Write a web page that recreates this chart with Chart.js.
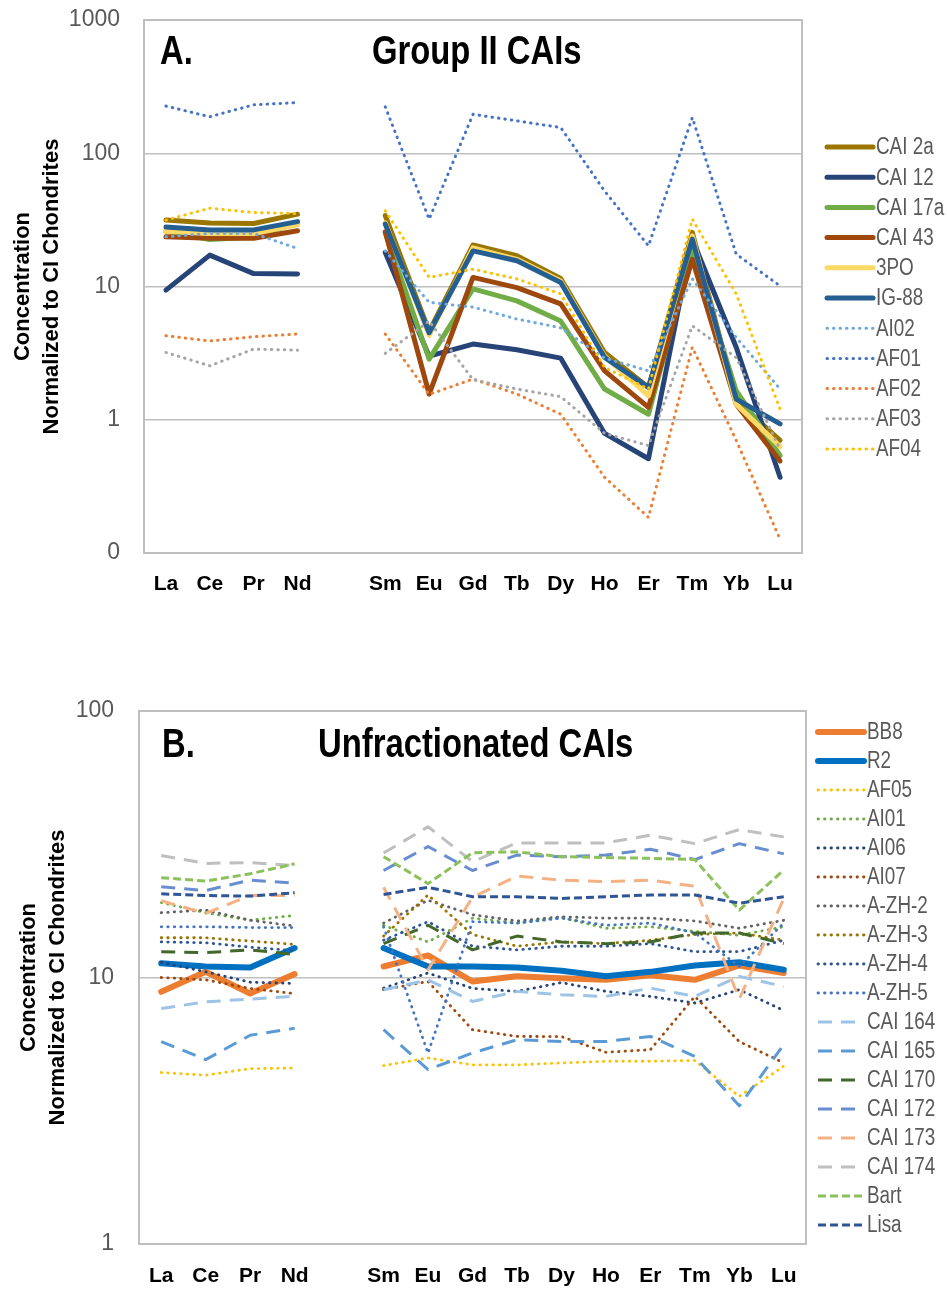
<!DOCTYPE html>
<html>
<head>
<meta charset="utf-8">
<script src="https://cdn.jsdelivr.net/npm/chart.js@4.4.1/dist/chart.umd.min.js"></script>
<style>
  html, body { margin:0; padding:0; background:#fff; }
  .wrap { position:absolute; left:0; width:947px; }
  #wrapA { top:0; height:620px; }
  #wrapB { top:640px; height:651px; }
</style>
</head>
<body>
<div class="wrap" id="wrapA"><canvas id="chartA" width="947" height="620"></canvas></div>
<div class="wrap" id="wrapB"><canvas id="chartB" width="947" height="651"></canvas></div>
<script>
// REE order, blank slot where Pm would be
const elements = ['La','Ce','Pr','Nd','','Sm','Eu','Gd','Tb','Dy','Ho','Er','Tm','Yb','Lu'];
const ticksA = [0.1, 1, 10, 100, 1000];
const ticksB = [1, 10, 100];

// A. Group II CAIs
const cai2a  = [31.5, 30, 29.7, 34.9, null, 34, 4.6, 20.5, 17, 11.5, 3.2, 1.75, 25.5, 1.4, 0.7];
const cai12  = [9.4, 17.2, 12.5, 12.4, null, 18, 3.0, 3.7, 3.35, 2.9, 0.79, 0.51, 22.6, 3.5, 0.37];
const cai17a = [26, 22.5, 23.5, 30, null, 25.4, 2.85, 9.6, 7.8, 5.5, 1.7, 1.1, 18.5, 1.65, 0.54];
const cai43  = [23.6, 23, 23, 26.2, null, 25.7, 1.56, 11.7, 9.8, 7.4, 2.33, 1.24, 16, 1.31, 0.49];
const po3    = [26, 25, 25, 29, null, 30, 4.3, 19.5, 16, 11, 3.0, 1.51, 24, 1.31, 0.63];
const ig88   = [28, 26.6, 26.6, 30.7, null, 29.4, 4.5, 18.5, 15.6, 10.7, 2.93, 1.75, 22.7, 1.43, 0.93];
const ai02   = [23.6, 25, 25, 19.3, null, 18.5, 7.6, 7.0, 5.7, 4.9, 2.9, 2.33, 11.4, 4.15, 1.7];
const af01   = [226, 188, 231, 240, null, 223, 32, 196, 175, 156, 52, 20.2, 185, 17.5, 10.1];
const af02   = [4.27, 3.9, 4.2, 4.4, null, 4.4, 1.55, 2.02, 1.56, 1.1, 0.37, 0.185, 3.5, 0.7, 0.127];
const af03   = [3.2, 2.54, 3.39, 3.33, null, 3.15, 5.5, 2.0, 1.7, 1.49, 0.79, 0.64, 5.07, 2.93, 0.6];
const af04   = [31.5, 38.7, 35.9, 35.3, null, 37, 11.7, 13.5, 11.4, 8.8, 2.47, 1.7, 32, 8.8, 1.2];

// B. Unfractionated CAIs
const bb8    = [8.84, 10.5, 8.71, 10.3, null, 11.0, 12.1, 9.66, 10.1, 9.94, 9.8, 10.2, 9.8, 11.1, 10.4];
const r2     = [11.3, 11.0, 10.9, 12.9, null, 12.9, 11.0, 11.0, 10.9, 10.6, 10.1, 10.5, 11.1, 11.4, 10.7];
const af05   = [4.4, 4.3, 4.55, 4.57, null, 4.67, 4.99, 4.7, 4.7, 4.78, 4.85, 4.85, 4.88, 3.58, 4.65];
const ai01   = [19.1, 17.5, 16.4, 17.1, null, 15.7, 13.6, 16.7, 16.0, 16.8, 15.3, 15.5, 14.9, 14.4, 15.5];
const ai06   = [11.4, 10.5, 9.6, 9.5, null, 9.12, 10.4, 9.1, 8.87, 9.57, 8.87, 8.49, 8.02, 9.0, 7.52];
const ai07   = [10.0, 9.8, 9.1, 8.7, null, 9.0, 9.66, 6.37, 6.01, 6.0, 5.24, 5.36, 8.49, 5.75, 4.78];
const azh2   = [17.5, 17.9, 16.4, 15.6, null, 16.0, 19.5, 17.2, 16.3, 16.9, 16.7, 16.7, 16.3, 15.3, 16.4];
const azh3   = [14.1, 14.1, 13.7, 13.3, null, 14.3, 20.4, 14.5, 13.1, 13.6, 13.4, 13.8, 14.5, 14.7, 13.8];
const azh4   = [13.6, 13.5, 13.0, 12.6, null, 13.8, 16.2, 13.1, 12.7, 13.1, 13.1, 13.4, 12.5, 12.5, 13.8];
const azh5   = [15.5, 15.5, 15.4, 15.4, null, 15.5, 5.2, 16.2, 16.0, 16.7, 15.7, 16.0, 14.7, 11.0, 16.0];
const cai164 = [7.65, 8.1, 8.3, 8.5, null, 9.0, 9.8, 8.13, 8.87, 8.61, 8.49, 9.12, 8.5, 10.1, 9.25];
const cai165 = [5.75, 4.92, 6.07, 6.45, null, 6.37, 4.51, 5.21, 5.84, 5.75, 5.75, 6.01, 5.06, 3.3, 5.6];
const cai170 = [12.5, 12.4, 12.7, 12.2, null, 13.4, 15.7, 12.7, 14.3, 13.6, 13.4, 13.6, 14.7, 14.7, 13.4];
const cai172 = [21.9, 21.2, 23.2, 22.6, null, 25.2, 31.0, 25.2, 28.8, 28.4, 28.8, 30.3, 27.7, 31.8, 29.1];
const cai173 = [19.4, 17.4, 20.3, 20.3, null, 21.8, 10.7, 20.0, 24.0, 23.2, 22.9, 23.2, 22.0, 8.3, 19.8];
const cai174 = [28.7, 26.8, 27.0, 26.3, null, 29.3, 36.8, 27.2, 32.0, 32.0, 32.0, 34.2, 31.8, 35.9, 33.7];
const bart   = [23.7, 23.0, 24.5, 26.7, null, 28.4, 22.5, 29.4, 29.6, 28.4, 28.2, 28.0, 27.7, 17.9, 25.3];
const lisa   = [20.6, 20.3, 20.2, 20.8, null, 20.5, 21.8, 20.1, 20.1, 19.8, 20.1, 20.4, 20.4, 19.0, 20.1];

const SANS = "'Liberation Sans', Arial, sans-serif";
const NARROW_X = 0.82; // squeeze to mimic Arial Narrow
const SOLID = [], DOT = [0.5, 6], LDASH = [14, 9], DASH = [8, 4];

function line(label, data, color, width, dash){
  return { label, data, borderColor: color, backgroundColor: color, borderWidth: width,
    borderDash: dash, borderCapStyle: dash === LDASH || dash === DASH ? 'butt' : 'round',
    borderJoinStyle: 'round', pointRadius: 0, tension: 0, spanGaps: false };
}

const setsA = [
  line('CAI 2a', cai2a, '#9A7600', 5, SOLID),
  line('CAI 12', cai12, '#264478', 5, SOLID),
  line('CAI 17a', cai17a, '#70AD47', 5, SOLID),
  line('CAI 43', cai43, '#9E480E', 5, SOLID),
  line('3PO', po3, '#FFD966', 5, SOLID),
  line('IG-88', ig88, '#255E91', 5, SOLID),
  line('AI02', ai02, '#6FA8DC', 3, DOT),
  line('AF01', af01, '#4472C4', 3, DOT),
  line('AF02', af02, '#ED7D31', 3, DOT),
  line('AF03', af03, '#A5A5A5', 3, DOT),
  line('AF04', af04, '#FFC000', 3, DOT)
];

const setsB = [
  line('BB8', bb8, '#ED7D31', 6, SOLID),
  line('R2', r2, '#0070C0', 6, SOLID),
  line('AF05', af05, '#FFC000', 2.8, DOT),
  line('AI01', ai01, '#70AD47', 2.8, DOT),
  line('AI06', ai06, '#264478', 2.8, DOT),
  line('AI07', ai07, '#9E480E', 2.8, DOT),
  line('A-ZH-2', azh2, '#636363', 2.8, DOT),
  line('A-ZH-3', azh3, '#997300', 2.8, DOT),
  line('A-ZH-4', azh4, '#2F5597', 2.8, DOT),
  line('A-ZH-5', azh5, '#4472C4', 2.8, DOT),
  line('CAI 164', cai164, '#9DC3E6', 3, LDASH),
  line('CAI 165', cai165, '#5B9BD5', 3, LDASH),
  line('CAI 170', cai170, '#43682B', 3, LDASH),
  line('CAI 172', cai172, '#698ED0', 3, LDASH),
  line('CAI 173', cai173, '#F4B183', 3, LDASH),
  line('CAI 174', cai174, '#BFBFBF', 3, LDASH),
  line('Bart', bart, '#8CC05A', 3, DASH),
  line('Lisa', lisa, '#2F5597', 3, DASH)
];

function narrowText(ctx, txt, x, y){
  ctx.save();
  ctx.translate(x, y);
  ctx.scale(NARROW_X, 1);
  ctx.fillText(txt, 0, 0);
  ctx.restore();
}

// frame, panel titles and the legend column
function decor(o){
  return {
    id: 'decor',
    beforeDatasetsDraw(chart){
      const {ctx, chartArea: a} = chart;
      ctx.save();
      ctx.strokeStyle = '#BFBFBF'; ctx.lineWidth = 2;
      ctx.strokeRect(a.left, a.top, a.right - a.left, a.bottom - a.top);
      ctx.restore();
    },
    afterDraw(chart){
      const ctx = chart.ctx;
      ctx.save();
      ctx.fillStyle = '#000';
      ctx.font = `bold 40px ${SANS}`;
      ctx.textAlign = 'left'; ctx.textBaseline = 'alphabetic';
      narrowText(ctx, o.tag, o.tagX, o.titleY);
      narrowText(ctx, o.title, o.titleX, o.titleY);
      ctx.font = `23px ${SANS}`;
      ctx.textBaseline = 'middle';
      chart.data.datasets.forEach((ds, i) => {
        const y = o.legY + i * o.legStep;
        ctx.beginPath();
        ctx.setLineDash(ds.borderDash);
        ctx.lineCap = ds.borderCapStyle;
        ctx.lineWidth = ds.borderWidth;
        ctx.strokeStyle = ds.borderColor;
        ctx.moveTo(o.legX0, y); ctx.lineTo(o.legX1, y);
        ctx.stroke();
        ctx.setLineDash([]);
        ctx.fillStyle = '#595959';
        narrowText(ctx, ds.label, o.legX1 + 3, y + 1);
      });
      ctx.restore();
    }
  };
}

function makeChart(id, sets, ticks, yMin, yMax, box, o){
  sets.forEach((ds, i) => ds.order = -i);
  return new Chart(document.getElementById(id), {
    type: 'line',
    data: { labels: elements, datasets: sets },
    options: {
      responsive: false, animation: false, devicePixelRatio: 1,
      layout: { padding: { left: 0, top: box.top, right: box.right, bottom: box.bottom } },
      plugins: { legend: { display: false }, tooltip: { enabled: false } },
      scales: {
        x: {
          type: 'category', offset: true,
          grid: { display: false, drawTicks: false }, border: { display: false },
          ticks: { color: '#000', font: { family: SANS, size: 21, weight: 'bold' }, padding: box.xPad, autoSkip: false, maxRotation: 0 },
          afterFit(s){ s.height = box.xH; s.paddingLeft = 0; s.paddingRight = 0; }
        },
        y: {
          type: 'logarithmic', min: yMin, max: yMax,
          afterBuildTicks(s){ s.ticks = ticks.map(v => ({ value: v })); },
          grid: { color: '#BFBFBF', lineWidth: 1.5, drawTicks: false }, border: { display: false },
          ticks: { color: '#595959', font: { family: SANS, size: 23 }, padding: box.yPad,
            callback: v => v < 1 ? '0' : String(v) },
          title: { display: true, text: ['Concentration', 'Normalized to CI Chondrites'], color: '#000',
            font: { family: SANS, size: 22, weight: 'bold', lineHeight: 1.32 }, padding: { top: box.tPad, bottom: 0 } },
          afterFit(s){ s.width = box.yW; s.paddingTop = 0; s.paddingBottom = 0; }
        }
      }
    },
    plugins: [decor(o)]
  });
}

makeChart('chartA', setsA, ticksA, 0.1, 1000,
  { top: 20, right: 145, bottom: 17, xH: 50, xPad: 19, yPad: 24, yW: 144, tPad: 8 },
  { tag: 'A.', tagX: 160, title: 'Group II CAIs', titleX: 372, titleY: 64,
    legX0: 827, legX1: 873, legY: 147, legStep: 30.2 });

makeChart('chartB', setsB, ticksB, 1, 100,
  { top: 71, right: 141, bottom: 3, xH: 44, xPad: 20, yPad: 25, yW: 139, tPad: 14 },
  { tag: 'B.', tagX: 162, title: 'Unfractionated CAIs', titleX: 318, titleY: 117,
    legX0: 818, legX1: 864, legY: 92, legStep: 29 });
</script>
</body>
</html>
